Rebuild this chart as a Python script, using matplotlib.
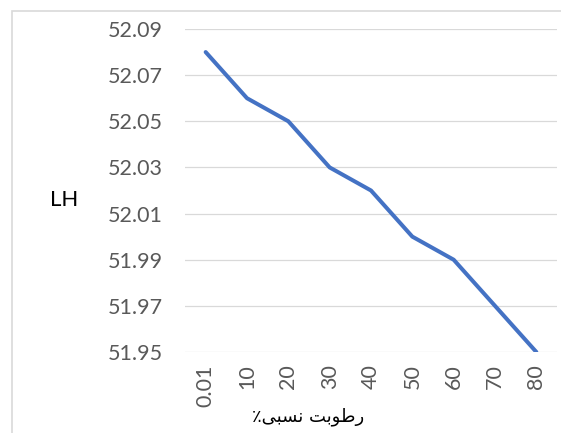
import matplotlib.pyplot as plt
from matplotlib.patches import Rectangle

categories = ['0.01', '10', '20', '30', '40', '50', '60', '70', '80']
lh_values = [52.08, 52.06, 52.05, 52.03, 52.02, 52.00, 51.99, 51.97, 51.95]
y_ticks = [51.95, 51.97, 51.99, 52.01, 52.03, 52.05, 52.07, 52.09]

# رطوبت نسبی٪ written out in shaped presentation forms, visual order
x_title = '\u066a\ufef0\ufe92\ufeb4\ufee7 \ufe96\ufe91\ufeee\ufec3\ufead'

fig = plt.figure(figsize=(5.61, 4.33), dpi=100)
ax = fig.add_axes([185 / 561, 81 / 433, 372 / 561, 323 / 433])

x = range(len(categories))
ax.plot(x, lh_values, color='#4472C4', linewidth=2.9, solid_capstyle='round',
        solid_joinstyle='round', zorder=3)

ax.set_xlim(-0.5, len(categories) - 0.5)
ax.set_ylim(51.95, 52.09)
ax.set_yticks(y_ticks)
ax.set_yticklabels([f'{v:.2f}' for v in y_ticks])
ax.set_xticks(list(x))
ax.set_xticklabels(categories, rotation=90)

ax.grid(axis='y', color='#D9D9D9', linewidth=0.9)
ax.set_axisbelow(True)
for s in ax.spines.values():
    s.set_visible(False)
ax.tick_params(axis='both', length=0, labelcolor='#595959', labelsize=15.5,
               labelfontfamily='Lato')
ax.tick_params(axis='y', pad=16)
ax.tick_params(axis='x', pad=9)

fig.text(64 / 561, 1 - 200 / 433, 'LH', fontsize=16, family='Lato',
         ha='center', va='center', color='black')
fig.text(308 / 561, 1 - 421 / 433, x_title, fontsize=13, family=['DejaVu Sans'],
         ha='center', va='baseline', color='black')

# chart frame
fig.patches.append(Rectangle((12 / 561, -0.1), 1.2, 1 - 11 / 433 + 0.1,
                             transform=fig.transFigure, fill=False,
                             edgecolor='#D9D9D9', linewidth=1.2))

fig.savefig('out.png', dpi=100)
